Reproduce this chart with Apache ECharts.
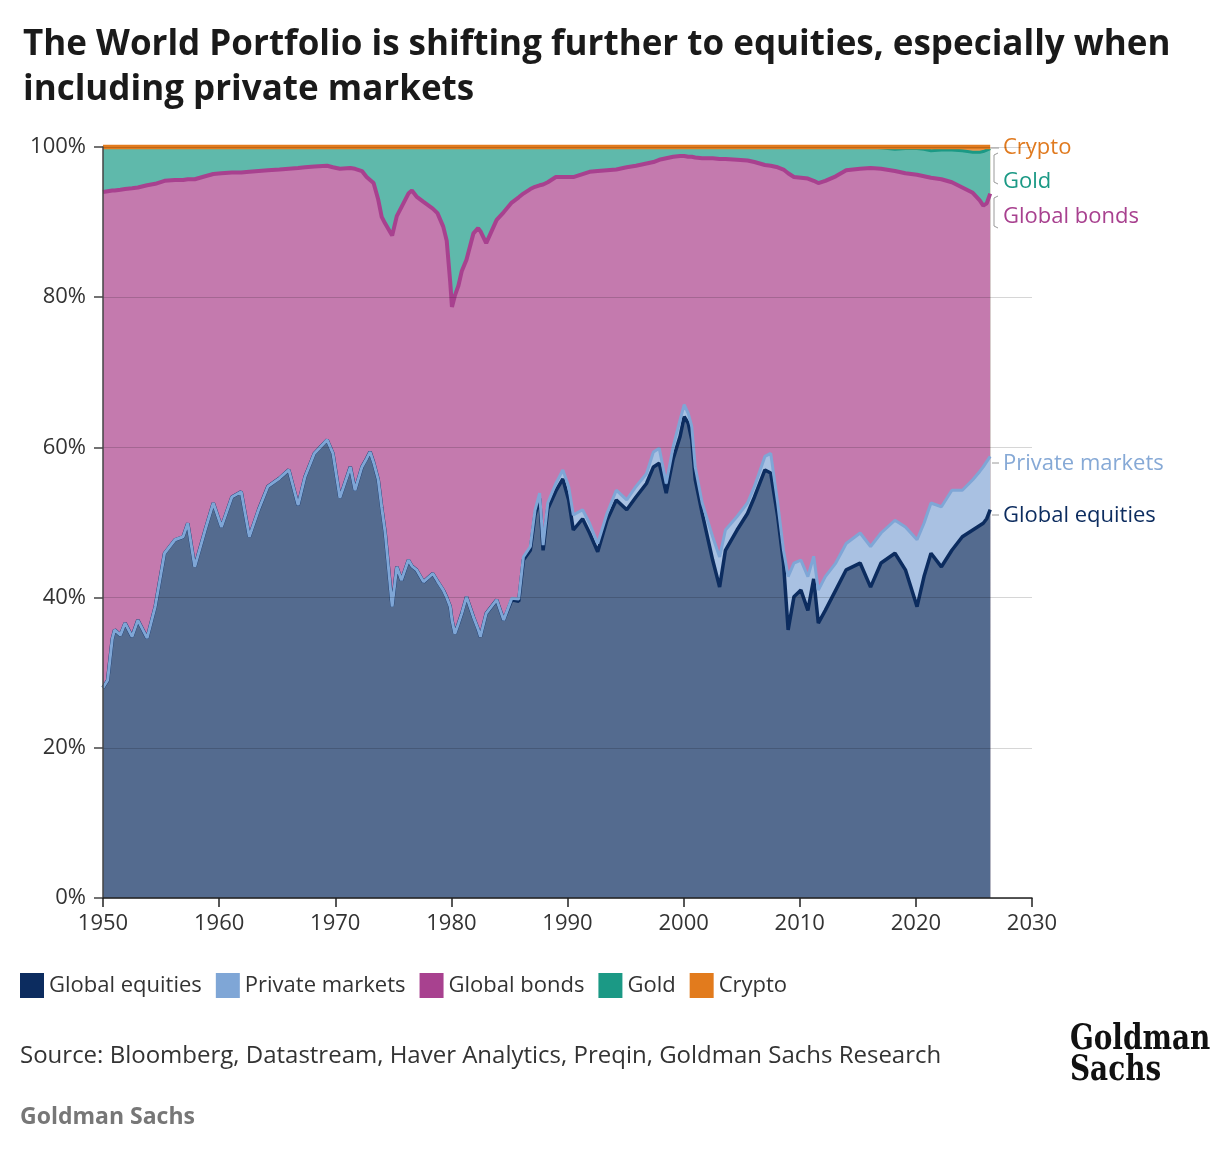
<!DOCTYPE html>
<html>
<head>
<meta charset="utf-8">
<title>The World Portfolio</title>
<script src="https://cdn.jsdelivr.net/npm/echarts@6/dist/echarts.min.js"></script>
<style>
  html, body { margin: 0; padding: 0; background: #fff; }
  #chart-container { width: 1232px; height: 1150px; }
</style>
</head>
<body>
<div id="chart-container"></div>
<script>
// shares of the world portfolio, %
var years = [
  1950.0, 1950.4, 1950.8, 1951.0, 1951.5, 1951.9, 1952.5, 1953.0, 1953.8, 1954.5,
  1955.3, 1956.2, 1956.9, 1957.3, 1957.9, 1958.8, 1959.5, 1960.2, 1961.1, 1961.9,
  1962.6, 1963.4, 1964.2, 1965.2, 1966.0, 1966.8, 1967.4, 1968.2, 1969.3, 1969.8,
  1970.4, 1971.3, 1971.7, 1972.3, 1972.7, 1973.0, 1973.3, 1973.7, 1974.0, 1974.3,
  1974.9, 1975.3, 1975.7, 1976.3, 1976.6, 1977.0, 1977.6, 1978.4, 1978.8, 1979.3,
  1979.6, 1979.9, 1980.05, 1980.3, 1980.6, 1980.9, 1981.3, 1981.9, 1982.3, 1982.5,
  1983.0, 1983.9, 1984.5, 1985.2, 1985.8, 1986.2, 1986.8, 1987.2, 1987.6, 1987.9,
  1988.3, 1989.0, 1989.6, 1990.1, 1990.5, 1991.3, 1991.9, 1992.6, 1993.4, 1994.2,
  1995.1, 1995.9, 1996.8, 1997.4, 1997.9, 1998.5, 1999.1, 1999.7, 2000.05, 2000.4,
  2000.7, 2001.0, 2001.6, 2002.5, 2003.1, 2003.6, 2004.6, 2005.5, 2006.1, 2007.0,
  2007.5, 2008.1, 2008.6, 2009.0, 2009.5, 2010.1, 2010.7, 2011.2, 2011.6, 2012.2,
  2013.1, 2014.0, 2015.2, 2016.1, 2017.0, 2018.2, 2019.1, 2020.1, 2020.7, 2021.3,
  2022.2, 2023.1, 2024.0, 2024.9, 2025.5, 2025.8, 2026.1, 2026.4
];

var globalEquities = [
  28.0, 29.0, 34.5, 35.7, 35.0, 36.6, 34.8, 37.0, 34.6, 38.8,
  45.9, 47.7, 48.1, 49.9, 44.1, 49.0, 52.6, 49.4, 53.4, 54.1,
  48.1, 51.7, 54.8, 55.9, 57.0, 52.3, 56.1, 59.2, 61.0, 59.2,
  53.3, 57.4, 54.3, 57.4, 58.5, 59.4, 58.0, 55.7, 52.0, 48.6,
  38.8, 44.1, 42.3, 45.0, 44.2, 43.7, 42.1, 43.2, 42.2, 41.0,
  40.0, 38.8, 37.0, 35.2, 36.5, 37.9, 40.1, 37.4, 35.8, 34.8,
  37.9, 39.7, 37.0, 39.7, 39.5, 45.0, 46.3, 51.0, 53.2, 46.3,
  51.8, 54.2, 55.8, 53.0, 49.0, 50.5, 48.6, 46.1, 50.3, 53.0,
  51.7, 53.4, 55.2, 57.4, 57.9, 53.9, 58.5, 61.5, 64.1, 63.2,
  61.0, 55.7, 51.2, 45.0, 41.4, 46.3, 49.0, 51.2, 53.4, 57.0,
  56.6, 50.8, 44.6, 35.7, 40.1, 41.0, 38.3, 42.5, 36.6, 38.3,
  41.0, 43.7, 44.6, 41.4, 44.6, 45.9, 43.7, 38.8, 42.8, 45.9,
  44.1, 46.3, 48.1, 49.0, 49.6, 49.9, 50.5, 51.7
];

var privateMarkets = [
  0, 0, 0, 0, 0, 0, 0, 0, 0, 0,
  0, 0, 0, 0, 0, 0, 0, 0, 0, 0,
  0, 0, 0, 0, 0, 0, 0, 0, 0, 0,
  0, 0, 0, 0, 0, 0, 0, 0, 0, 0,
  0, 0, 0, 0, 0, 0, 0, 0, 0, 0,
  0, 0, 0, 0, 0, 0, 0, 0, 0, 0,
  0, 0, 0, 0.2, 0.3, 0.4, 0.5, 0.6, 0.7, 0.7,
  0.8, 1.0, 1.2, 1.8, 2.0, 1.2, 1.3, 1.1, 0.9, 1.3,
  1.3, 1.4, 1.3, 2.0, 2.0, 1.3, 1.6, 2.2, 1.6, 1.3,
  1.8, 1.7, 1.4, 3.1, 4.0, 2.7, 1.8, 1.4, 1.4, 1.8,
  2.6, 1.8, 1.7, 7.1, 4.5, 4.0, 4.5, 3.0, 4.4, 4.5,
  3.6, 3.5, 4.0, 5.4, 4.0, 4.4, 5.7, 8.9, 7.1, 6.7,
  8.0, 8.0, 6.2, 6.7, 7.2, 7.5, 7.6, 7.1
];

var globalBonds = [
  66.0, 65.1, 59.7, 58.5, 59.3, 57.8, 59.7, 57.6, 60.3, 56.3,
  49.6, 47.9, 47.5, 45.8, 51.6, 47.1, 43.8, 47.1, 43.2, 42.5,
  48.6, 45.1, 42.1, 41.1, 40.1, 44.9, 41.2, 38.2, 36.5, 38.1,
  43.8, 39.8, 42.8, 39.4, 37.5, 36.2, 37.2, 37.3, 38.7, 41.2,
  49.4, 46.7, 49.7, 48.8, 50.0, 49.7, 50.6, 48.6, 49.0, 48.4,
  47.5, 43.2, 41.7, 45.0, 45.0, 45.6, 44.9, 51.1, 53.4, 54.0,
  49.3, 50.6, 54.3, 52.7, 53.5, 48.4, 47.6, 43.1, 41.0, 48.0,
  42.7, 40.8, 39.0, 41.2, 45.0, 44.7, 46.8, 49.6, 45.7, 42.7,
  44.3, 42.7, 41.3, 38.6, 38.4, 43.3, 38.6, 35.1, 33.1, 34.2,
  35.9, 41.2, 45.9, 50.4, 53.0, 49.4, 47.5, 45.6, 43.2, 38.8,
  38.3, 44.7, 50.7, 53.7, 51.4, 50.9, 53.0, 50.0, 54.2, 52.7,
  51.5, 49.7, 48.5, 50.4, 48.5, 46.5, 47.1, 48.6, 46.2, 43.3,
  43.6, 41.0, 40.3, 38.2, 36.1, 34.8, 34.4, 35.0
];

var goldShares = [
  6.0, 5.9, 5.8, 5.8, 5.7, 5.6, 5.5, 5.4, 5.1, 4.9,
  4.5, 4.4, 4.4, 4.3, 4.3, 3.9, 3.6, 3.5, 3.4, 3.4,
  3.3, 3.2, 3.1, 3.0, 2.9, 2.8, 2.7, 2.6, 2.5, 2.7,
  2.9, 2.8, 2.9, 3.2, 4.0, 4.4, 4.8, 7.0, 9.3, 10.2,
  11.8, 9.2, 8.0, 6.2, 5.8, 6.6, 7.3, 8.2, 8.8, 10.6,
  12.5, 18.0, 21.3, 19.8, 18.5, 16.5, 15.0, 11.5, 10.8, 11.2,
  12.8, 9.7, 8.7, 7.4, 6.7, 6.2, 5.6, 5.3, 5.1, 5.0,
  4.7, 4.0, 4.0, 4.0, 4.0, 3.6, 3.3, 3.2, 3.1, 3.0,
  2.7, 2.5, 2.2, 2.0, 1.7, 1.5, 1.3, 1.2, 1.2, 1.3,
  1.3, 1.4, 1.5, 1.5, 1.6, 1.6, 1.7, 1.8, 2.0, 2.4,
  2.5, 2.7, 3.0, 3.5, 4.0, 4.1, 4.2, 4.5, 4.8, 4.5,
  3.9, 3.1, 2.9, 2.8, 2.8, 2.9, 3.3, 3.5, 3.6, 3.6,
  3.9, 4.3, 4.9, 5.4, 6.4, 7.2, 7.1, 6.0
];

var cryptoShares = [
  0, 0, 0, 0, 0, 0, 0, 0, 0, 0,
  0, 0, 0, 0, 0, 0, 0, 0, 0, 0,
  0, 0, 0, 0, 0, 0, 0, 0, 0, 0,
  0, 0, 0, 0, 0, 0, 0, 0, 0, 0,
  0, 0, 0, 0, 0, 0, 0, 0, 0, 0,
  0, 0, 0, 0, 0, 0, 0, 0, 0, 0,
  0, 0, 0, 0, 0, 0, 0, 0, 0, 0,
  0, 0, 0, 0, 0, 0, 0, 0, 0, 0,
  0, 0, 0, 0, 0, 0, 0, 0, 0, 0,
  0, 0, 0, 0, 0, 0, 0, 0, 0, 0,
  0, 0, 0, 0, 0, 0, 0, 0, 0, 0,
  0, 0, 0, 0, 0.1, 0.3, 0.2, 0.2, 0.3, 0.5,
  0.4, 0.4, 0.5, 0.7, 0.7, 0.6, 0.4, 0.2
];

var seriesNames = ["Global equities", "Private markets", "Global bonds", "Gold", "Crypto"];
var seriesData = [globalEquities, privateMarkets, globalBonds, goldShares, cryptoShares];

var lineColors = ["#0c2c5f", "#7fa6d6", "#a8418f", "#1b9985", "#e27b1d"];
var fillColors = ["#546b8f", "#a9c1e2", "#c47aae", "#5fb9ab", "#eb9d55"];
var lineWidths = [3.5, 3, 4, 3, 4.5];

var FONT = "'Open Sans', 'Noto Sans', sans-serif";

// running totals: top edge of each band in the 100% stack
var stackedTops = [];
seriesData.forEach(function (values, k) {
  stackedTops.push(values.map(function (v, i) {
    var below = k > 0 ? stackedTops[k - 1][i] : 0;
    return Math.round((below + v) * 100) / 100;
  }));
});

function toPairs(values) {
  return years.map(function (y, i) { return [y, values[i]]; });
}

var series = [];
// filled bands, top-most band first so lower bands paint over it
for (var k = seriesNames.length - 1; k >= 0; k--) {
  series.push({
    name: seriesNames[k],
    type: "line",
    data: toPairs(stackedTops[k]),
    showSymbol: false,
    symbol: "none",
    itemStyle: { color: lineColors[k] },
    lineStyle: { width: 0 },
    areaStyle: { color: fillColors[k], opacity: 1, origin: "start" },
    z: 2
  });
}
// edge lines on top of all bands
seriesNames.forEach(function (name, i) {
  series.push({
    name: name + " edge",
    type: "line",
    data: toPairs(stackedTops[i]),
    showSymbol: false,
    symbol: "none",
    clip: false,
    silent: true,
    lineStyle: { color: lineColors[i], width: lineWidths[i] },
    z: 3
  });
});

function sideLabel(text, y, color) {
  return {
    type: "text",
    left: 1003,
    top: y - 10,
    style: { text: text, fill: color, font: "22px " + FONT }
  };
}

function leader(points) {
  return {
    type: "polyline",
    shape: { points: points },
    style: { stroke: "#9a9a9a", lineWidth: 1, fill: null },
    z: 10
  };
}

var dom = document.getElementById("chart-container");
var myChart = echarts.init(dom, null, { renderer: "canvas" });

var option = {
  backgroundColor: "#fff",
  animation: false,
  title: {
    text: "The World Portfolio is shifting further to equities, especially when\nincluding private markets",
    left: 18,
    top: 18,
    textStyle: {
      fontFamily: FONT,
      fontSize: 35,
      fontWeight: "bold",
      color: "#1a1a1a",
      lineHeight: 45
    }
  },
  legend: {
    data: seriesNames,
    left: 20,
    top: 973,
    padding: 0,
    icon: "rect",
    itemWidth: 24,
    itemHeight: 25,
    itemGap: 14,
    selectedMode: false,
    textStyle: { fontFamily: FONT, fontSize: 22, color: "#333" }
  },
  grid: { left: 103, right: 200, top: 147, bottom: 252, containLabel: false },
  xAxis: {
    type: "value",
    min: 1950,
    max: 2030,
    interval: 10,
    z: 5,
    axisLine: { lineStyle: { color: "#222", width: 1.5 } },
    axisTick: { show: true, length: 9, lineStyle: { color: "#222", width: 1.5 } },
    axisLabel: {
      formatter: function (v) { return String(v); },
      fontFamily: FONT, fontSize: 22, color: "#333", margin: 15
    },
    splitLine: { show: false }
  },
  yAxis: {
    type: "value",
    min: 0,
    max: 100,
    interval: 20,
    z: 5,
    axisLine: { show: true, lineStyle: { color: "#444", width: 1.5 } },
    axisTick: { show: true, length: 9, lineStyle: { color: "#444", width: 1.5 } },
    axisLabel: { formatter: "{value}%", fontFamily: FONT, fontSize: 22, color: "#333", margin: 17 },
    splitLine: { show: true, lineStyle: { color: "rgba(0,0,0,0.16)", width: 1 } }
  },
  series: series,
  graphic: [
    sideLabel("Crypto", 147, "#e07a1f"),
    sideLabel("Gold", 181, "#1b9985"),
    sideLabel("Global bonds", 216, "#a8418f"),
    sideLabel("Private markets", 463, "#86a9d6"),
    sideLabel("Global equities", 515, "#0c2c5f"),
    leader([[991, 148], [999, 148]]),
    leader([[998, 153], [994, 155], [994, 182], [998, 184]]),
    leader([[998, 196], [994, 198], [994, 226], [998, 228]]),
    leader([[992, 463], [999, 463]]),
    leader([[992, 515], [999, 515]]),
    {
      type: "text",
      left: 20,
      top: 1044,
      style: {
        text: "Source: Bloomberg, Datastream, Haver Analytics, Preqin, Goldman Sachs Research",
        fill: "#333",
        font: "24px " + FONT
      }
    },
    {
      type: "text",
      left: 20,
      top: 1106,
      style: { text: "Goldman Sachs", fill: "#777", font: "bold 23px " + FONT }
    },
    {
      type: "text",
      left: 1070,
      top: 1022,
      scaleX: 0.86,
      style: {
        text: "Goldman\nSachs",
        fill: "#111",
        font: "bold 36px 'DejaVu Serif Condensed', 'Liberation Serif', serif",
        lineHeight: 31
      }
    }
  ]
};

myChart.setOption(option);

window.addEventListener("resize", myChart.resize);
</script>
</body>
</html>
